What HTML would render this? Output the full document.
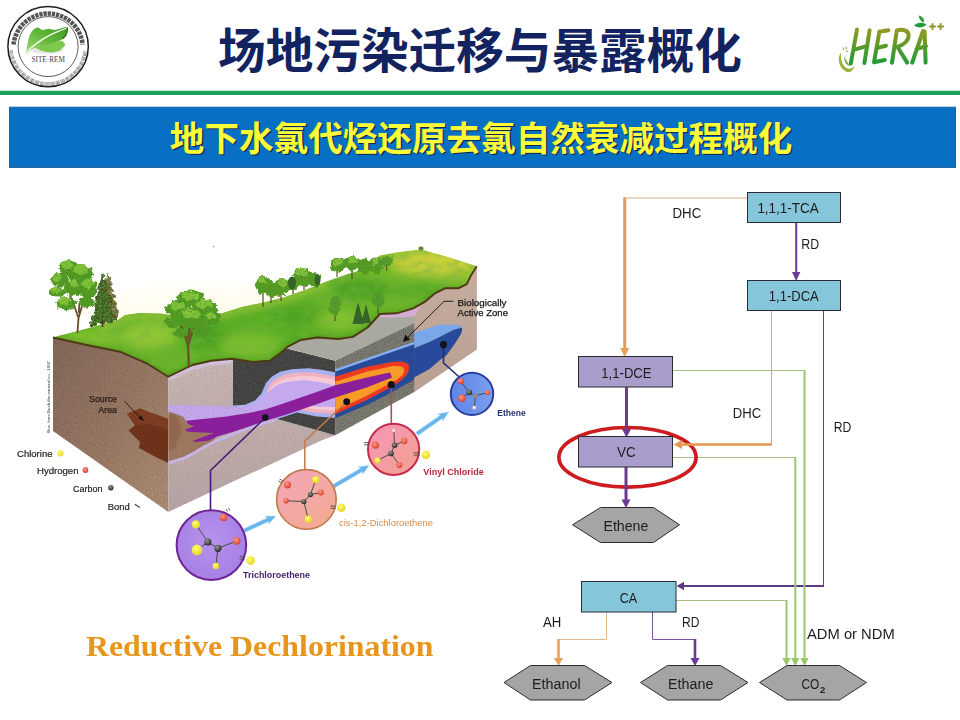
<!DOCTYPE html>
<html lang="zh">
<head>
<meta charset="utf-8">
<title>场地污染迁移与暴露概化</title>
<style>
html,body{margin:0;padding:0;background:#fff;}
body{width:960px;height:720px;overflow:hidden;position:relative;font-family:"Liberation Sans",sans-serif;}
svg{position:absolute;left:0;top:0;display:block;}
text{font-family:"Liberation Sans",sans-serif;}
.serif{font-family:"Liberation Serif",serif;}
.cjk{font-family:"Liberation Sans","Noto Sans CJK SC",sans-serif;}
</style>
</head>
<body>
<svg width="960" height="720" viewBox="0 0 960 720">
<g id="header">
  <rect x="0" y="90.8" width="960" height="4.2" fill="#1f9d5a"/>
  <rect x="9.5" y="107.2" width="946" height="60.2" fill="#0870c4" stroke="#1c609e" stroke-width="1"/>
  <text class="cjk" x="218" y="67.5" font-size="48" font-weight="bold" fill="#13235f" textLength="524" lengthAdjust="spacingAndGlyphs">场地污染迁移与暴露概化</text>
  <text class="cjk" x="169.8" y="150.5" font-size="34.6" font-weight="bold" fill="#15264e" transform="translate(1.4,1.4)" textLength="622.5" lengthAdjust="spacingAndGlyphs">地下水氯代烃还原去氯自然衰减过程概化</text>
  <text class="cjk" x="169.8" y="150.5" font-size="34.6" font-weight="bold" fill="#fbfb3a" textLength="622.5" lengthAdjust="spacingAndGlyphs">地下水氯代烃还原去氯自然衰减过程概化</text>

  <!-- soft shading above green rule -->
  <defs>
    <linearGradient id="gLeaf" x1="0" y1="1" x2="1" y2="0"><stop offset="0" stop-color="#a6dc7c"/><stop offset=".5" stop-color="#62b83a"/><stop offset="1" stop-color="#3f9a26"/></linearGradient>
    <linearGradient id="gHera" x1="0" y1="0" x2="0" y2="1"><stop offset="0" stop-color="#8f9a24"/><stop offset=".45" stop-color="#5f9a28"/><stop offset="1" stop-color="#259a36"/></linearGradient>
  </defs>
  <!-- SITE-REM logo -->
  <g id="siterem">
    <circle cx="48.1" cy="46.6" r="40.2" fill="#fff" stroke="#1e1e1e" stroke-width="1.5"/>
    <circle cx="48.1" cy="46.6" r="30" fill="#fff" stroke="#333" stroke-width=".8"/>
    <path d="M13.5 44.6A34.8 34.8 0 0 1 82.7 44.6" fill="none" stroke="#2c2c2c" stroke-width="4.6" stroke-dasharray="3.3 .9" opacity=".8"/>
    <path d="M11 50.5A37.3 37.3 0 0 0 85.2 50.5" fill="none" stroke="#333" stroke-width="3.8" stroke-dasharray=".55 .5 .9 .45 .5 .5 .6 1.2" opacity=".66"/>
    <ellipse cx="47" cy="50" rx="17" ry="4" fill="#c8d0c8" opacity=".5" filter="url(#b1)"/>
    <path d="M34.5 47.6L42.1 44.7L53.6 42.1L61.3 40.7C63.4 41.6 64.8 43 65.1 44.7C64.6 46.2 63.4 47.4 62.6 47.9L60 50.4C57 51.6 54 52.2 51.1 52.4C48 52.4 45 51.9 42.1 51.1z" fill="#7ec850"/>
    <path d="M26.2 53.6C26.3 50 26.8 46.6 27.5 43.4C28.1 40.2 28.9 37.2 30 34.5C31.2 32.2 32.7 30.2 34.5 28.7C35.6 27.9 36.9 27.5 38.3 27.5L42.1 30C44.3 29.6 46.4 29.1 48.5 28.7L54.9 30C56.6 29.6 58.3 29.1 60 28.7C62.6 27.8 65.2 27.1 67.7 26.8C68.1 29 67.8 31.2 67 33.2C66.3 35.1 65.2 36.9 63.9 38.3C62.3 39.4 60.6 40.3 58.7 40.9L51.1 43.4L44.7 45.3L38.3 46C36 47 33.9 48 31.9 49.2z" fill="url(#gLeaf)"/>
    <path d="M26.6 51.6C34 42.8 48 33.6 66.9 27.5L67.3 28.6C49 35 36 43.8 27.6 52.2z" fill="#f4fbef"/>
    <path d="M67.2 28C67.8 32.4 65.8 36.2 62.2 38.8" stroke="#2a6e1c" stroke-width="1.3" fill="none"/>
    <text class="serif" x="48.2" y="62.4" font-size="8.3" fill="#444" text-anchor="middle" textLength="33.5" lengthAdjust="spacingAndGlyphs">SITE·REM</text>
  </g>
  <!-- HERA logo -->
  <g id="hera" fill="none" stroke="url(#gHera)" stroke-width="4" stroke-linecap="round" stroke-linejoin="round">
    <path d="M857 29.5L850.8 63.5M869.6 30.2L864.4 63M853.4 49.8L867.4 45.8"/>
    <path d="M879.4 31.6L874 62.4M879.4 31.8L888.4 30.2M876.6 48L886 45.8M874 62.2L884.8 60"/>
    <path d="M896.8 30.4L892 62.8M896.8 30.4C903 29 908.6 30.4 908.6 35.4C908.6 41 903 45 897.4 46.8L907.2 62.6"/>
    <path d="M923 31L912.2 62.6M924.6 31.4L925.6 62.6M916.4 49.2L926 46.2"/>
  </g>
  <path d="M929.1 26.6h6.8M932.5 23.2v6.8M937.2 26.6h6.8M940.6 23.2v6.8" stroke="#8f9a2c" stroke-width="2" fill="none"/>
  <path d="M914 25.6C917 22.2 922.6 21.6 926.6 24.6C923.2 28 917.8 28.4 914 25.6zM918.8 15.4C922.6 16.2 924.8 19.4 924 22.6C920.8 21.4 918.8 18.6 918.8 15.4z" fill="#279a40"/>
  <path d="M841 52C837 58 838.4 67.6 846 71.6C850 73.4 853.6 70.4 854.4 65.4C852 69.4 847.6 69.8 844.6 66.6C841.4 63 840.4 57.6 841 52z" fill="#9ab23a"/>
  <path d="M844.4 56C843.6 61 846 65.6 850.6 66C848 63.4 845.6 60.2 844.4 56z" fill="#7aa83a"/>
  <path d="M843 47.4l1 2.6M846 46.6l.4 2.8M848.2 50.6l-2.2 1.4" stroke="#8a9a4a" stroke-width="1" fill="none"/>
</g>

<g id="illus">
<defs>
  <filter id="b1" x="-20%" y="-20%" width="140%" height="140%"><feGaussianBlur stdDeviation="1"/></filter>
  <filter id="b3" x="-30%" y="-30%" width="160%" height="160%"><feGaussianBlur stdDeviation="3"/></filter>
  <filter id="b5" x="-40%" y="-40%" width="180%" height="180%"><feGaussianBlur stdDeviation="5"/></filter>
  <filter id="grain" x="0" y="0" width="100%" height="100%">
    <feTurbulence type="fractalNoise" baseFrequency="0.9" numOctaves="2" seed="3" result="n"/>
    <feColorMatrix in="n" type="matrix" values="0 0 0 0 0  0 0 0 0 0  0 0 0 0 0  0.9 0.9 0 0 -0.75" result="a"/>
    <feComposite in="a" in2="SourceAlpha" operator="in"/>
  </filter>
  <filter id="leafy" x="-20%" y="-20%" width="140%" height="140%">
    <feTurbulence type="fractalNoise" baseFrequency="0.22" numOctaves="2" seed="7" result="t"/>
    <feDisplacementMap in="SourceGraphic" in2="t" scale="7" xChannelSelector="R" yChannelSelector="G" result="d"/>
    <feTurbulence type="fractalNoise" baseFrequency="0.55" numOctaves="2" seed="11" result="t2"/>
    <feColorMatrix in="t2" type="matrix" values="0 0 0 0 0.12  0 0 0 0 0.36  0 0 0 0 0.04  1.6 1.2 0 0 -1.15" result="dark"/>
    <feComposite in="dark" in2="d" operator="in" result="dk"/>
    <feMerge><feMergeNode in="d"/><feMergeNode in="dk"/></feMerge>
  </filter>
  <filter id="grassN" x="0" y="0" width="100%" height="100%">
    <feTurbulence type="fractalNoise" baseFrequency="0.08 0.16" numOctaves="3" seed="5" result="n"/>
    <feColorMatrix in="n" type="matrix" values="0 0 0 0 0.18  0 0 0 0 0.45  0 0 0 0 0.05  1.8 1.0 0 0 -1.2" result="a"/>
    <feComposite in="a" in2="SourceAlpha" operator="in"/>
  </filter>
  <linearGradient id="gBrown" x1="0" y1="0" x2="1" y2="1">
    <stop offset="0" stop-color="#84695a"/><stop offset="0.5" stop-color="#9a7a66"/><stop offset="1" stop-color="#b29278"/>
  </linearGradient>
  <linearGradient id="gFront" x1="0" y1="0" x2="0" y2="1">
    <stop offset="0" stop-color="#cab8b6"/><stop offset="0.4" stop-color="#c3b0ae"/><stop offset="1" stop-color="#b8a6a6"/>
  </linearGradient>
  <linearGradient id="gTan" x1="0" y1="0" x2="0" y2="1">
    <stop offset="0" stop-color="#c5ad9e"/><stop offset="1" stop-color="#b89f92"/>
  </linearGradient>
  <linearGradient id="gGrass" x1="0" y1="1" x2="1" y2="0">
    <stop offset="0" stop-color="#74b82c"/><stop offset="0.45" stop-color="#5aae24"/><stop offset="0.8" stop-color="#76ba2c"/><stop offset="1" stop-color="#b8cc38"/>
  </linearGradient>
  <clipPath id="cGrass"><path id="pGrass" d="M53 337.5L60 335.5L78 331L100 325L118 320L125 315L140 313L160 313.5L180 316L200 317L219.6 314L242.5 306.7L263.3 302.5L284.2 297.3L305 290L325.8 281.7L346.7 274.4L362.4 269.6L372 262L380 255.5L396.7 252.5L420.8 249.5L446.7 256.7L476.7 266.2L470.8 275.8L466.7 284.2L458.3 288.3L445 288.3L435 293.3L425 301.7L413.3 308.3L396.7 313.3L380 314L367.5 327.5L353 336.9L338.3 339L317.5 337.5L300.8 340L288.3 346.3L280 353.5L269.6 360.8L253 361.9L232 358.8L211.3 360.8L192.5 365L180 371L168.3 376.7L146.7 363.3L120 351.7L86.7 345z"/></clipPath>
  <clipPath id="cBack"><path d="M233 359L253 362L269.6 361L280 353.5L286.7 348.5L335.2 360.7V435.2L233 406.5z"/></clipPath>
  <clipPath id="cRight"><path d="M335.2 360.8L414.2 323V392L335.2 435.2z"/></clipPath>
  <clipPath id="cFront"><path d="M168.3 376.7L180 371L192.5 365L211.3 360.8L233 359V406.5L335.2 435.2L322.5 440L261.7 468.5L240 478.3L168.3 512z"/></clipPath>
  <clipPath id="cLeft"><path d="M53 337.5L86.7 345L120 351.7L146.7 363.3L168.3 376.7V512L53 431z"/></clipPath>
</defs>

<!-- sky glow -->
<ellipse cx="230" cy="308" rx="160" ry="22" fill="#fffbe0" opacity=".4" filter="url(#b5)"/>

<!-- left brown face -->
<g clip-path="url(#cLeft)">
  <rect x="50" y="330" width="125" height="190" fill="url(#gBrown)"/>
  <path d="M127 413.8L140 408.5L148.3 411.7L168.5 419V463L156.7 457.5L139 448L140 442L128.5 430.5L134.8 425.2z" fill="#73341c"/>
  <path d="M127 413.8L140 408.5L148.3 411.7L168.5 419V430L150 424L134.8 425.2z" fill="#8a4828" opacity=".6"/>
  <rect x="50" y="330" width="125" height="190" fill="#3a2418" filter="url(#grain)" opacity=".26"/>
</g>

<!-- right tan face -->
<path d="M413 308.3L425 301.7L435 293.3L445 288.3L458.3 288.3L466.7 284.2L470.8 275.8L476.9 266.5V349.5L414 392.3z" fill="url(#gTan)"/>
<path d="M414 333L438.3 325L453.3 324.5L461 325.8L461.7 327.5L453.3 330L430 341.7L414 348.3z" fill="#7aa6ea"/>
<path d="M414 348.3L430 341.7L453.3 330L461.7 327.5Q463.2 330 460 335.5L455 343.5L446.7 355L440 360L429.6 369L414 377.5z" fill="#274a9a"/>

<!-- front face (and notch floor) -->
<g clip-path="url(#cFront)">
  <rect x="165" y="355" width="175" height="160" fill="url(#gFront)"/>
  <!-- lavender rim under grass and along the corner -->
  <path d="M168.3 376.7L180 371L192.5 365L211.3 360.8L233 359" fill="none" stroke="#d9c8e6" stroke-width="9" opacity=".9" filter="url(#b1)"/>
  <path d="M170.5 378V512" stroke="#d4c0e0" stroke-width="5" opacity=".7" filter="url(#b1)"/>
  <!-- source area seen on front face -->
  <path d="M168.3 410L190 411.5L218 434L214 440L205 446L193.3 453.3L183.3 458.3L168.3 462.8z" fill="#a17a62"/>
  <path d="M168.3 414L176 414L182 430L176 446L168.3 452z" fill="#8f5c42" opacity=".55" filter="url(#b1)"/>
  <!-- lavender plume band above purple core -->
  <path d="M168.3 405.6L172 404.8L190 405.6L215 405.8L233.3 406.6L253.3 401.6L263.5 392L268 400L262 412L250 414.5L225 418.5L200 421L186 422.5L184 417L172 412.5L168.3 412z" fill="#c6aaee"/>
  <!-- lavender curve below the band -->
  <path d="M168.3 463L183.3 458.5L193.3 453.5L205 446.5L216.7 440.5L233.3 434L256.7 425.5L280 418L300 412L336 400" fill="none" stroke="#cdb8ea" stroke-width="3"/>
  <rect x="165" y="355" width="175" height="160" fill="#5a4060" filter="url(#grain)" opacity=".16"/>
</g>

<!-- dark back wall of notch -->
<g clip-path="url(#cBack)">
  <rect x="230" y="345" width="110" height="95" fill="#4a4a48"/>
  <rect x="230" y="345" width="110" height="95" fill="#1c1c1c" filter="url(#grain)" opacity=".55"/>
  <!-- concentric plume cross-section -->
  <path d="M233 405.5L245 404.8L255 400.5L261.5 393.5L265.8 383.3L271.7 376.7L280 371.7L291.7 369.2L308.3 368.3L321.7 369.7L336 372.5V418L316.7 416.5L297 412.5L280 418L250 428L233 432z" fill="#a9b2ee"/>
  <path d="M266.7 390L270 384L275 379.2L283.3 375L296.7 372.5L313.3 372.5L336 376.7V414L316.7 412.8L300 410L270 405z" fill="#f0b2be"/>
  <path d="M269.5 390L273 385.5L278.5 381.5L287 378L299 376L314 376.2L336 380V410.5L317 409.5L300 407L272 402z" fill="#f5cad4"/>
  <path d="M233 407L246 406.2L257 402L266 394L272 389L276.7 385L288.3 381.7L305 380L321.7 382.5L336 385.8V407L316.7 406.8L300 404L280 410L250 420L233 426z" fill="#c5a9ef"/>
</g>

<!-- light grey strip above notch walls -->
<path d="M286.7 348.3L288.3 346.3L300.8 340L317.5 337.5L338.3 339L353 336.9L367.5 327.5L380 314.5L396.7 315.5L414.2 311.5V323L335.2 360.8z" fill="#a9a9a1"/>
<path d="M380 314L396.7 313.3L413.3 308.3L419 305L420 307.5L414.2 316.5L396.7 317.6L380 317.6z" fill="#d3add3"/>

<!-- right wall of notch with plume -->
<g clip-path="url(#cRight)">
  <rect x="335" y="320" width="82" height="118" fill="#7e7e74"/>
  <rect x="335" y="320" width="82" height="118" fill="#2a2a26" filter="url(#grain)" opacity=".4"/>
  <path d="M335 369.3L415 341.5V345L335 373z" fill="#86aef0"/>
  <path d="M335 371.7L415 344V379L391.7 392.5L366.7 405L335 418.4z" fill="#264a98"/>
  <path d="M335 376.7L366.7 366.7L391.7 362C398 361 402.5 361.4 405 362.5C408.5 363.4 409.6 365.4 409.2 367.5C409 370.6 408.3 372.8 406.7 375C402 380 397 384 391.7 386.7L366.7 400L335 414.2z" fill="#ec3a22"/>
  <path d="M335 381.7L366.7 371.7L391.7 366.3C396 365.8 399.5 366 401.7 366.7C403.6 367.6 404.4 369 404.2 370.8C404 372.4 403.4 373.8 402.5 375C399.5 378 396 380.5 391.7 382.5L366.7 395.8L335 410.8z" fill="#f79a28"/>
</g>

<!-- purple core band -->
<path d="M185.8 420.8L200 419.2L225 416.7L250 412.7L265 409.6L283.3 403.4L300 397.8L316.7 391.9L335.3 385.2L366.7 377.5L390 372.5L392 377.5L366.7 387.5L335.3 397.5L316.7 404.2L300 410L283.3 415.4L266.7 420.4L250 426.2L233.3 431.7L216.7 436.7L208 440.8L195 442L192.5 441L214 433L187.5 431.7L185 429.7L194.2 426.3L188.3 424.2z" fill="#8a1f9c"/>

<!-- grass -->
<g clip-path="url(#cGrass)">
  <rect x="50" y="245" width="430" height="135" fill="url(#gGrass)"/>
  <g filter="url(#b5)">
    <ellipse cx="150" cy="335" rx="28" ry="14" fill="#a4cf3a" opacity=".7"/>
    <ellipse cx="95" cy="338" rx="30" ry="8" fill="#8ac630" opacity=".7"/>
    <ellipse cx="205" cy="335" rx="22" ry="16" fill="#3f9a1f" opacity=".6"/>
    <ellipse cx="250" cy="345" rx="30" ry="12" fill="#8cc832" opacity=".6"/>
    <ellipse cx="300" cy="315" rx="30" ry="10" fill="#3f9a1f" opacity=".55"/>
    <ellipse cx="340" cy="320" rx="25" ry="10" fill="#9acc34" opacity=".6"/>
    <ellipse cx="362" cy="289" rx="30" ry="11" fill="#3a941c" opacity=".6"/>
    <ellipse cx="432" cy="263" rx="42" ry="12" fill="#d4d23c" opacity=".85"/>
    <ellipse cx="420" cy="290" rx="30" ry="9" fill="#4aa422" opacity=".6"/>
  </g>
  <g filter="url(#b3)" fill="none" stroke-linejoin="round">
    <path d="M53 340L86.7 347.5L120 354L146.7 365.5L168.3 379L180 373.5L192.5 367.5L211.3 363.3L232 361.3L253 364.4L269.6 363.3L280 356L288.3 349L300.8 342.5L317.5 340L338.3 341.5L353 339.4L367.5 330L380 316.5L396.7 315.8L413.3 310.8L425 304.2L435 295.8L445 290.8L458.3 290.8L466.7 286.7" stroke="#2f7a16" stroke-width="6" opacity=".55"/>
    <path d="M100 327L118 322L125 317L140 315L160 315.5L180 318L200 319L219.6 316L242.5 308.7L263.3 304.5L284.2 299.3L305 292L325.8 283.7" stroke="#c6d848" stroke-width="5" opacity=".6"/>
  </g>
  <rect x="50" y="245" width="430" height="135" fill="#000" filter="url(#grassN)" opacity=".6"/>
</g>
<!-- dark soil line under grass -->
<path d="M53 337.5L86.7 345L120 351.7L146.7 363.3L168.3 376.7L180 371L192.5 365L211.3 360.8L232 358.8L253 361.9L269.6 360.8L280 353.5L288.3 346.3L300.8 340L317.5 337.5L338.3 339L353 336.9L367.5 327.5L380 314L396.7 313.3L413.3 308.3L425 301.7L435 293.3L445 288.3L458.3 288.3L466.7 284.2L470.8 275.8L476.7 266.2" fill="none" stroke="#4e3a14" stroke-width="1.9" stroke-linejoin="round"/>

<!-- ===== trees ===== -->
<g id="trees">
  <!-- big tree far left -->
  <path d="M77.5 332L78.5 318L74 305L70 296M78.5 318L82 306L87 298M78.8 312L79.5 303" stroke="#6b4a2a" stroke-width="1.8" fill="none" stroke-linecap="round"/>
  <g fill="#4c961e" filter="url(#leafy)">
    <ellipse cx="69" cy="268" rx="10" ry="7.5"/><ellipse cx="81" cy="274" rx="13" ry="9"/><ellipse cx="60" cy="280" rx="9" ry="6.5"/>
    <ellipse cx="57" cy="292" rx="8" ry="5.5"/><ellipse cx="66" cy="304" rx="10" ry="6.5"/><ellipse cx="88" cy="289" rx="9" ry="10"/><ellipse cx="74" cy="288" rx="10" ry="8"/>
    <ellipse cx="86" cy="302" rx="8" ry="5.5"/>
  </g>
  <g fill="#86c83a" filter="url(#leafy)">
    <ellipse cx="67" cy="265" rx="6" ry="4"/><ellipse cx="80" cy="270" rx="8" ry="5"/><ellipse cx="58" cy="278" rx="5" ry="3.5"/><ellipse cx="56" cy="290" rx="4.5" ry="3"/>
    <ellipse cx="64" cy="301" rx="6" ry="3.5"/><ellipse cx="88" cy="283" rx="6" ry="5"/><ellipse cx="73" cy="284" rx="5" ry="4"/>
  </g>
  <!-- conifers -->
  <path d="M103 273L97 290L99.5 290L93 306L96 306L88.5 327L117 321L111 306L114 305L108 289L110 288z" fill="#3e5426" filter="url(#leafy)"/>
  <path d="M108 272L103 290L110 300L113 319L119 317L114 298L116 297L111 284z" fill="#5e4028" opacity=".85" filter="url(#leafy)"/>
  <path d="M102.5 327V321" stroke="#4a3020" stroke-width="1.5"/>
  <!-- second big tree -->
  <path d="M188.8 365L188 345L184 332L179 322M188 345L193 330L198 320M188.3 338L190 326" stroke="#6b5228" stroke-width="2.4" fill="none" stroke-linecap="round"/>
  <g fill="#4c961e" filter="url(#leafy)">
    <ellipse cx="191" cy="299" rx="14" ry="8.5"/><ellipse cx="178" cy="309" rx="12" ry="8.5"/><ellipse cx="204" cy="308" rx="13" ry="8.5"/><ellipse cx="191" cy="318" rx="16" ry="10"/>
    <ellipse cx="212" cy="318" rx="9" ry="7"/><ellipse cx="173" cy="322" rx="8" ry="6"/><ellipse cx="202" cy="331" rx="10" ry="6"/><ellipse cx="181" cy="333" rx="7" ry="4.5"/>
  </g>
  <g fill="#86c83a" filter="url(#leafy)">
    <ellipse cx="190" cy="296" rx="9" ry="4.5"/><ellipse cx="177" cy="306" rx="7" ry="4.5"/><ellipse cx="204" cy="304" rx="8" ry="4.5"/><ellipse cx="191" cy="314" rx="9" ry="5"/><ellipse cx="211" cy="316" rx="5" ry="3.5"/>
  </g>
  <!-- mid group -->
  <g stroke="#5a4824" stroke-width="1.2" fill="none"><path d="M263 307V293M271 303V292M281 301V290M293 294V283M304 290V278M315 286V276"/></g>
  <g fill="#4f981f" filter="url(#leafy)">
    <ellipse cx="263" cy="285" rx="8" ry="9"/><ellipse cx="272" cy="289" rx="8" ry="8"/><ellipse cx="282" cy="287" rx="9" ry="8"/><ellipse cx="303" cy="277" rx="10" ry="9"/><ellipse cx="314" cy="280" rx="7" ry="7"/><ellipse cx="293" cy="284" rx="6" ry="6"/>
  </g>
  <g fill="#35642a"><ellipse cx="292" cy="283" rx="4" ry="6.5"/><ellipse cx="317.5" cy="280" rx="3" ry="6"/></g>
  <g fill="#86c43c" filter="url(#leafy)"><ellipse cx="262" cy="281" rx="4" ry="4"/><ellipse cx="282" cy="283" rx="5" ry="3.5"/><ellipse cx="302" cy="272" rx="6" ry="4"/></g>
  <!-- far group -->
  <g stroke="#5a4824" stroke-width="1.1" fill="none"><path d="M337 277V268M352 279V267M366 275V266"/></g>
  <g fill="#4f981f" filter="url(#leafy)"><ellipse cx="338" cy="265" rx="7.5" ry="7.5"/><ellipse cx="352" cy="263" rx="8.5" ry="7"/><ellipse cx="364" cy="267" rx="7.5" ry="7.5"/><ellipse cx="376" cy="265" rx="6.5" ry="8.5"/></g>
  <g fill="#88c440" filter="url(#leafy)"><ellipse cx="338" cy="262" rx="4" ry="3.5"/><ellipse cx="352" cy="260" rx="5" ry="3"/><ellipse cx="376" cy="261" rx="3.5" ry="4"/></g>
  <!-- small trees on slope -->
  <path d="M335 321V310M378 315V305" stroke="#5a4824" stroke-width="1.1"/>
  <g fill="#4f962a" filter="url(#leafy)"><ellipse cx="335" cy="306" rx="6" ry="9"/><ellipse cx="378" cy="299" rx="6" ry="8"/><ellipse cx="386.7" cy="261.5" rx="6" ry="5.5"/></g>
  <path d="M358 302L352.5 324H364zM366 304L361.5 323H371z" fill="#356428"/>
  <path d="M386.7 271V265" stroke="#5a4824" stroke-width="1"/>
  <ellipse cx="421" cy="248.5" rx="2.6" ry="2" fill="#5a8a2a"/>
</g>

<!-- ===== sampling lines ===== -->
<g fill="none" stroke-linejoin="round">
  <path d="M265.3 417.5L210.5 470.5V510" stroke="#4a1a78" stroke-width="1.6"/>
  <path d="M346.7 401.7L304.8 441V470" stroke="#c07848" stroke-width="1.5"/>
  <path d="M391.3 385V424" stroke="#b04c54" stroke-width="1.6"/>
  <path d="M443.5 345V363L459.8 377.5" stroke="#222a70" stroke-width="1.6"/>
</g>
<g fill="#14101c">
  <circle cx="265.3" cy="417.5" r="3.3"/><circle cx="346.7" cy="401.7" r="3.4"/><circle cx="391.3" cy="384.7" r="3.6"/><circle cx="443.5" cy="344.6" r="3.6"/>
</g>

<!-- ===== transformation arrows ===== -->
<g fill="#66b4ea" stroke="#9fd2f4" stroke-width=".6">
  <path d="M245.2 532.3L268.9 521.3L268.5 524.1L275.8 516.0L264.9 516.3L267.3 517.9L243.6 528.9z"/>
  <path d="M334.9 487.7L362.6 471.4L362.6 474.3L369.0 465.5L358.2 466.9L360.7 468.2L332.9 484.5z"/>
  <path d="M418.1 435.3L442.6 418.3L442.7 421.1L448.5 411.9L437.8 414.1L440.4 415.2L415.9 432.2z"/>
</g>

<!-- ===== molecule circles ===== -->
<defs>
  <radialGradient id="gTCE" cx=".5" cy=".45" r=".6"><stop offset="0" stop-color="#b892ee"/><stop offset="1" stop-color="#a57fe2"/></radialGradient>
  <linearGradient id="gDCE" x1="0" y1="0" x2="1" y2="1"><stop offset="0" stop-color="#f2a6bc"/><stop offset="1" stop-color="#f3ab8c"/></linearGradient>
  <linearGradient id="gVC" x1="0" y1="0" x2="1" y2="1"><stop offset="0" stop-color="#f596b6"/><stop offset="1" stop-color="#f3a090"/></linearGradient>
  <linearGradient id="gETH" x1="0" y1="0" x2="1" y2="0"><stop offset="0" stop-color="#5c84e4"/><stop offset="1" stop-color="#7aa0f0"/></linearGradient>
  <radialGradient id="aY" cx=".4" cy=".35" r=".7"><stop offset="0" stop-color="#ffff70"/><stop offset="1" stop-color="#e4d424"/></radialGradient>
  <radialGradient id="aR" cx=".4" cy=".35" r=".7"><stop offset="0" stop-color="#ff9a80"/><stop offset="1" stop-color="#d23a2a"/></radialGradient>
  <radialGradient id="aC" cx=".4" cy=".35" r=".7"><stop offset="0" stop-color="#9a9a9a"/><stop offset="1" stop-color="#1c1c1c"/></radialGradient>
  <radialGradient id="aW" cx=".4" cy=".35" r=".7"><stop offset="0" stop-color="#ffffff"/><stop offset="1" stop-color="#f0b0b0"/></radialGradient>
</defs>
<circle cx="211.4" cy="545.1" r="34.8" fill="url(#gTCE)" stroke="#6f2496" stroke-width="2"/>
<circle cx="306.4" cy="499.4" r="29.8" fill="url(#gDCE)" stroke="#bf7a48" stroke-width="1.6"/>
<circle cx="393.6" cy="449.4" r="25.6" fill="url(#gVC)" stroke="#c82a4c" stroke-width="2"/>
<circle cx="472" cy="393.9" r="21.2" fill="url(#gETH)" stroke="#2a3c9c" stroke-width="2"/>

<!-- TCE atoms -->
<g stroke="#4a4a4a" stroke-width="1" fill="none">
  <path d="M195.8 524.4L207.9 542L197 550M207.9 542L217.9 548.3L236.7 541M217.9 548.3L215.8 566"/>
  <path d="M287.5 484.8M286 500.8L303.8 501.5L310.4 494.6L315.8 479.6M310.4 494.6L320.8 492.5M303.8 501.5L308.3 519.2"/>
  <path d="M393.8 430.6L394.6 445.2L391 453.5L377.5 460.4M394.6 445.2L404.2 441M391 453.5L399.4 465"/>
  <path d="M460.8 381.3L469.2 392.5L475.4 395.8L487.5 392.5M469.2 392.5L461.9 398.3M475.4 395.8L474.4 407.7"/>
</g>
<g>
  <circle cx="195.8" cy="524.4" r="4.2" fill="url(#aY)"/><circle cx="197" cy="550" r="5.4" fill="url(#aY)"/><circle cx="215.8" cy="566" r="3.2" fill="url(#aY)"/><circle cx="250.6" cy="560.4" r="4.3" fill="url(#aY)"/>
  <circle cx="223.5" cy="517.5" r="3.8" fill="url(#aR)"/><circle cx="236.7" cy="541" r="3.8" fill="url(#aR)"/>
  <circle cx="207.9" cy="542" r="3.6" fill="url(#aC)"/><circle cx="217.9" cy="548.3" r="3.6" fill="url(#aC)"/>
  <!-- DCE -->
  <circle cx="315.8" cy="479.6" r="3.6" fill="url(#aY)"/><circle cx="308.3" cy="519.2" r="3.6" fill="url(#aY)"/><circle cx="341.3" cy="507.7" r="4.2" fill="url(#aY)"/>
  <circle cx="287.5" cy="484.8" r="3.6" fill="url(#aR)"/><circle cx="286" cy="500.8" r="2.8" fill="url(#aR)"/><circle cx="320.8" cy="492.5" r="3" fill="url(#aR)"/>
  <circle cx="303.8" cy="501.5" r="2.6" fill="url(#aC)"/><circle cx="310.4" cy="494.6" r="2.6" fill="url(#aC)"/>
  <!-- VC -->
  <circle cx="375.4" cy="445.2" r="3.6" fill="url(#aR)"/><circle cx="404.2" cy="441" r="3.2" fill="url(#aR)"/><circle cx="399.4" cy="465" r="3" fill="url(#aR)"/>
  <circle cx="393.8" cy="430.6" r="1.8" fill="url(#aW)"/><circle cx="377.5" cy="460.4" r="3" fill="url(#aY)"/><circle cx="425.8" cy="455" r="4.3" fill="url(#aY)"/>
  <circle cx="394.6" cy="445.2" r="2.8" fill="url(#aC)"/><circle cx="391" cy="453.5" r="2.8" fill="url(#aC)"/>
  <!-- Ethene -->
  <circle cx="460.8" cy="381.3" r="3" fill="url(#aR)"/><circle cx="461.9" cy="398.3" r="3.8" fill="url(#aR)"/><circle cx="487.5" cy="392.5" r="2.6" fill="url(#aR)"/>
  <circle cx="474.4" cy="407.7" r="2" fill="url(#aW)"/><circle cx="469.2" cy="392.5" r="2.8" fill="url(#aC)"/><circle cx="475.4" cy="395.8" r="2.6" fill="#8a8a90"/>
</g>
<!-- tick marks near leaving atoms -->
<g stroke="#3a3a3a" stroke-width=".8" fill="none">
  <path d="M226 509l1.6 2.6M228.4 508l1.6 2.6M240 556l5 1.6M239.4 558.4l5 1.6"/>
  <path d="M279.6 479l3.4 2M278.6 481l3.4 2M330.6 505.8l5 .6M330.4 508l5 .6"/>
  <path d="M364 442.6h5M364 444.8h5M413.6 452.8h5.6M413.6 455h5.6"/>
</g>

<!-- ===== labels ===== -->
<g font-weight="bold" font-size="9.4">
  <text x="243" y="578.3" fill="#47226f" textLength="67" lengthAdjust="spacingAndGlyphs">Trichloroethene</text>
  <text x="339" y="526.3" fill="#d88a4c" font-weight="normal" textLength="94" lengthAdjust="spacingAndGlyphs">cis-1,2-Dichloroethene</text>
  <text x="423.3" y="474.5" fill="#b8283c" font-size="9.8" textLength="60.5" lengthAdjust="spacingAndGlyphs">Vinyl Chloride</text>
  <text x="497.3" y="415.8" fill="#26346c" textLength="28.5" lengthAdjust="spacingAndGlyphs">Ethene</text>
</g>
<g font-size="9.6" fill="#242424" stroke="#242424" stroke-width=".2">
  <text x="17" y="456.8" textLength="35.5" lengthAdjust="spacingAndGlyphs">Chlorine</text>
  <text x="37" y="474.4" textLength="41.5" lengthAdjust="spacingAndGlyphs">Hydrogen</text>
  <text x="73" y="491.6" textLength="29.5" lengthAdjust="spacingAndGlyphs">Carbon</text>
  <text x="107.7" y="510.2" textLength="22" lengthAdjust="spacingAndGlyphs">Bond</text>
</g>
<circle cx="60.4" cy="453.3" r="3.1" fill="url(#aY)"/>
<circle cx="85.4" cy="470" r="2.9" fill="url(#aR)"/>
<circle cx="110.8" cy="487.7" r="2.7" fill="url(#aC)"/>
<path d="M134.8 504.2L139.8 507.4" stroke="#3a4a50" stroke-width="1.2"/>
<!-- Source Area -->
<g font-size="8.4" fill="#2c1c18" stroke="#2c1c18" stroke-width=".25">
  <text x="89" y="401.8" textLength="28" lengthAdjust="spacingAndGlyphs">Source</text>
  <text x="98.3" y="413" textLength="18.7" lengthAdjust="spacingAndGlyphs">Area</text>
</g>
<path d="M124.4 401.3L141 418.5" stroke="#1c1410" stroke-width=".9" fill="none"/>
<path d="M143.8 421.3L138.2 418.6L141.4 415.6z" fill="#1c1410"/>
<!-- Biologically Active Zone -->
<g font-size="8.6" fill="#1a1a1a" stroke="#1a1a1a" stroke-width=".25">
  <text x="457.5" y="305.8" textLength="49" lengthAdjust="spacingAndGlyphs">Biologically</text>
  <text x="457.5" y="316.3" textLength="50.5" lengthAdjust="spacingAndGlyphs">Active Zone</text>
</g>
<path d="M453.3 301.3H444L406.5 338.5" stroke="#111" stroke-width=".9" fill="none"/>
<path d="M403 342L405.2 334.8L410.2 339.6z" fill="#111"/>
<!-- tiny vertical credit text -->
<text transform="translate(49.6 433) rotate(-90)" font-size="3.6" fill="#333" textLength="72" lengthAdjust="spacingAndGlyphs">Illus. from Bush the mineral co., 1997</text>
<path d="M212.5 246.5h2M213.5 245.5v2" stroke="#999" stroke-width=".5"/>

<!-- Reductive Dechlorination -->
<text class="serif" x="86" y="655.5" font-size="29.4" font-weight="bold" fill="#e8951c" textLength="347.5" lengthAdjust="spacingAndGlyphs">Reductive Dechlorination</text>
</g>

<g id="flow" font-size="13.5" fill="#222">
  <!-- thin connector lines -->
  <g fill="none" stroke-width="1">
    <path d="M747 198H624" stroke="#d2b088"/>
    <path d="M771.5 310.5V444" stroke="#c4ac8c"/>
    <path d="M606.5 612V639.5H558.5" stroke="#e0b890"/>
    <path d="M823.5 310.5V586" stroke="#5c4a74"/>
    <path d="M652.5 612V639.5H695" stroke="#7a559c"/>
    <path d="M672.5 370.5H804.5" stroke="#a4be86"/>
    <path d="M672.5 457.5H795" stroke="#a4be86"/>
    <path d="M676 600.5H786.5" stroke="#a4be86"/>
  </g>
  <!-- red ellipse -->
  <ellipse cx="627.5" cy="457.3" rx="68.6" ry="29.8" fill="none" stroke="#cc1c20" stroke-width="3.7"/>
  <!-- thick lines with arrow heads -->
  <g fill="none">
    <path d="M624.7 197.5V350" stroke="#d9a05e" stroke-width="3"/>
    <path d="M772 444.5H681" stroke="#e59a50" stroke-width="2.6"/>
    <path d="M558.5 639V659" stroke="#e8a05a" stroke-width="2.6"/>
    <path d="M796.2 222V273" stroke="#6a3b92" stroke-width="2"/>
    <path d="M626.5 387V431" stroke="#6a3b92" stroke-width="3"/>
    <path d="M626 467V501" stroke="#6a3b92" stroke-width="3"/>
    <path d="M824 586H683" stroke="#5d3a80" stroke-width="2"/>
    <path d="M695 639V659" stroke="#6a3b92" stroke-width="2.6"/>
    <path d="M786.5 600V660" stroke="#9bc66c" stroke-width="2"/>
    <path d="M795.3 457V660" stroke="#9bc66c" stroke-width="2"/>
    <path d="M804.5 370V660" stroke="#9bc66c" stroke-width="2"/>
  </g>
  <g stroke="none">
    <path d="M620.2 348h9L624.7 357z" fill="#e3a05a"/>
    <path d="M682 440v9L673.5 444.5z" fill="#e59a50"/>
    <path d="M554 658h9L558.5 666z" fill="#e8a05a"/>
    <path d="M792 272h8.4L796.2 281z" fill="#6a3b92"/>
    <path d="M622 429h9L626.5 437.5z" fill="#6a3b92"/>
    <path d="M621.5 499.5h9L626 508z" fill="#6a3b92"/>
    <path d="M684 581.8v8.4L676.5 586z" fill="#5d3a80"/>
    <path d="M690.5 658h9L695 666z" fill="#6a3b92"/>
    <path d="M782.3 658h8.4L786.5 666z" fill="#9bc66c"/>
    <path d="M791.1 658h8.4L795.3 666z" fill="#9bc66c"/>
    <path d="M800.3 658h8.4L804.5 666z" fill="#9bc66c"/>
  </g>
  <!-- boxes -->
  <g stroke="#2b2b33" stroke-width="1">
    <rect x="747.5" y="192.5" width="93" height="30" fill="#86c6da"/>
    <rect x="747.5" y="280.5" width="93" height="30" fill="#86c6da"/>
    <rect x="578.5" y="356.5" width="94" height="30.5" fill="#ab9dcb"/>
    <rect x="578.5" y="436.5" width="94" height="30.5" fill="#ab9dcb"/>
    <rect x="581.5" y="581.5" width="94.5" height="30.5" fill="#86c6da"/>
    <path d="M572.5 524.8L600.5 507.5H653.5L679.5 524.8L653.5 542.5H600.5z" fill="#a5a5a5"/>
    <path d="M504 682.5L530.5 665.5H584.5L612 682.5L584.5 700H530.5z" fill="#a5a5a5"/>
    <path d="M640.5 682.5L667.5 665.5H720.5L748 682.5L720.5 700H667.5z" fill="#a5a5a5"/>
    <path d="M759.5 682.5L787 665.5H839.5L866.5 682.5L839.5 700H787z" fill="#a5a5a5"/>
  </g>
  <!-- labels -->
  <g font-size="14" fill="#1c1c1c" lengthAdjust="spacingAndGlyphs">
    <text x="757.4" y="213.4" textLength="61.3" lengthAdjust="spacingAndGlyphs">1,1,1-TCA</text>
    <text x="768.8" y="300.9" textLength="50" lengthAdjust="spacingAndGlyphs">1,1-DCA</text>
    <text x="601.3" y="378.4" textLength="50.3" lengthAdjust="spacingAndGlyphs">1,1-DCE</text>
    <text x="617" y="457.4" textLength="18.8" lengthAdjust="spacingAndGlyphs">VC</text>
    <text x="603.5" y="530.8" textLength="44.8" lengthAdjust="spacingAndGlyphs">Ethene</text>
    <text x="619.7" y="602.8" textLength="17.4" lengthAdjust="spacingAndGlyphs">CA</text>
    <text x="532" y="688.8" textLength="48.6" lengthAdjust="spacingAndGlyphs">Ethanol</text>
    <text x="668" y="688.8" textLength="45.4" lengthAdjust="spacingAndGlyphs">Ethane</text>
    <text x="672.5" y="218" textLength="28.7" lengthAdjust="spacingAndGlyphs">DHC</text>
    <text x="801.2" y="249.4" textLength="17.9" lengthAdjust="spacingAndGlyphs">RD</text>
    <text x="732.8" y="417.8" textLength="28.4" lengthAdjust="spacingAndGlyphs">DHC</text>
    <text x="833.8" y="431.9" textLength="17.6" lengthAdjust="spacingAndGlyphs">RD</text>
    <text x="543" y="627" textLength="18.3" lengthAdjust="spacingAndGlyphs">AH</text>
    <text x="682" y="627" textLength="17.4" lengthAdjust="spacingAndGlyphs">RD</text>
    <text x="807" y="639" textLength="87.7" lengthAdjust="spacingAndGlyphs">ADM or NDM</text>
    <text x="801.4" y="688.8" textLength="17.8" lengthAdjust="spacingAndGlyphs">CO</text>
    <text x="820" y="693" font-size="9.5" font-weight="bold">2</text>
  </g>
</g>

</svg>
</body>
</html>
